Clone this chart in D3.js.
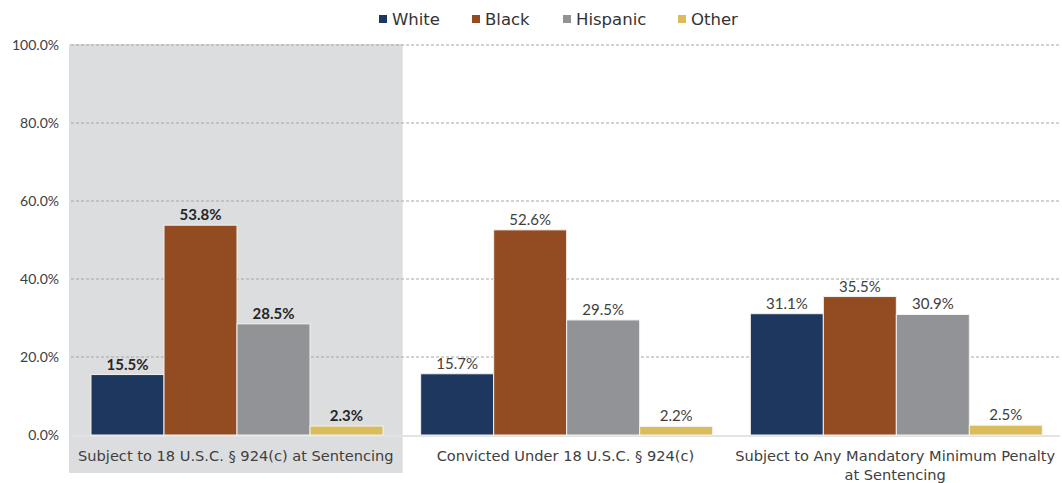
<!DOCTYPE html>
<html><head><meta charset="utf-8">
<script src="https://cdn.jsdelivr.net/npm/d3@7"></script>
<style>body{margin:0;background:#fff;} text{font-family:"Lato","Open Sans",sans-serif;} .wide{font-family:"DejaVu Sans",sans-serif;}</style>
</head><body><svg id="c" width="1062" height="483"></svg>
<script>
const categories = ["Subject to 18 U.S.C. § 924(c) at Sentencing", "Convicted Under 18 U.S.C. § 924(c)", "Subject to Any Mandatory Minimum Penalty|at Sentencing"];
const seriesNames = ["White", "Black", "Hispanic", "Other"];
const white = [15.5, 15.7, 31.1];
const black = [53.8, 52.6, 35.5];
const hispanic = [28.5, 29.5, 30.9];
const other = [2.3, 2.2, 2.5];
const yTicks = [0, 20, 40, 60, 80, 100];
const colors = ["#1d375e", "#934c21", "#929396", "#dabd5a"];
const seriesValues = [white, black, hispanic, other];

const svg = d3.select("#c");
const x0 = d3.scaleBand().domain(categories).range([71, 1060]);
const x1 = d3.scaleBand().domain(seriesNames).range([20, 20 + 292]);
const y = d3.scaleLinear().domain([0, 100]).range([435, 45]);

// highlight background for first category
svg.append("rect").attr("x", x0(categories[0]) - 2).attr("y", 44)
  .attr("width", x0.bandwidth() + 4).attr("height", 429).attr("fill", "#dcdddf");

// gridlines
svg.append("g").selectAll("line").data(yTicks.filter(d => d > 0)).join("line")
  .attr("x1", 71).attr("x2", 1060).attr("y1", d => y(d)).attr("y2", d => y(d))
  .attr("stroke", "#a6a6a6").attr("stroke-dasharray", "3,2").attr("stroke-width", 1);

// y labels
svg.append("g").selectAll("text").data(yTicks).join("text")
  .attr("x", 59).attr("y", d => y(d)).attr("dy", "0.35em").attr("text-anchor", "end")
  .attr("font-size", 14).attr("fill", "#404040").text(d => d.toFixed(1) + "%");

// baseline
svg.append("line").attr("x1", 71).attr("x2", 1060).attr("y1", y(0) + 1).attr("y2", y(0) + 1)
  .attr("stroke", "#e3e3e3").attr("stroke-width", 2);

// bars
const groups = svg.append("g").selectAll("g").data(categories).join("g")
  .attr("transform", c => `translate(${x0(c)},0)`);
groups.each(function(c, ci) {
  const g = d3.select(this);
  seriesNames.forEach((s, si) => {
    const v = seriesValues[si][ci];
    g.append("rect").attr("x", x1(s)).attr("y", y(v)).attr("width", x1.bandwidth())
      .attr("height", y(0) - y(v)).attr("fill", colors[si]).attr("stroke", "#f2f2f2").attr("stroke-width", 1);
    g.append("text").attr("x", x1(s) + x1.bandwidth() / 2).attr("y", y(v) - 5)
      .attr("text-anchor", "middle").attr("font-size", 15)
      .attr("font-weight", ci === 0 ? "bold" : "normal")
      .attr("fill", ci === 0 ? "#262626" : "#404040").text(v.toFixed(1) + "%");
  });
  const lines = c.split("|");
  lines.forEach((ln, li) => {
    g.append("text").attr("class", "wide").attr("x", x0.bandwidth() / 2).attr("y", 461 + li * 19)
      .attr("text-anchor", "middle").attr("font-size", 14.6).attr("fill", "#404040").text(ln);
  });
});

// legend
const legendX = [379, 472, 563, 678];
const lg = svg.append("g").selectAll("g").data(seriesNames).join("g")
  .attr("transform", (d, i) => `translate(${legendX[i]},19)`);
lg.append("rect").attr("x", 0).attr("y", -4).attr("width", 8).attr("height", 8).attr("fill", (d, i) => colors[i]);
lg.append("text").attr("class", "wide").attr("x", 13).attr("y", 0).attr("dy", "0.35em").attr("font-size", 16.5).attr("fill", "#333").text(d => d);
</script></body></html>
